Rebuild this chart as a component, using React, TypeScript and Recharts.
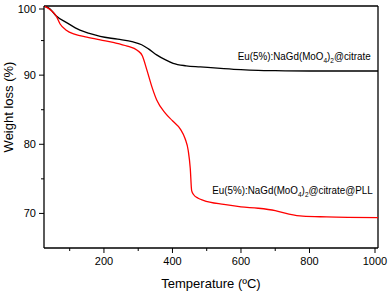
import React from "react";
import { LineChart, Line, XAxis, YAxis, ReferenceLine, ReferenceDot } from "recharts";

const citrate = [
  [25, 100], [42, 99.6], [60, 98.6], [91, 97.6], [130, 96.5], [160, 96], [189, 95.6], [240, 95.2],
  [285, 94.8], [310, 94.4], [330, 93.8], [355, 92.9], [380, 92.2], [402, 91.7], [440, 91.35],
  [481, 91.2], [550, 90.95], [600, 90.8], [650, 90.7], [700, 90.65], [800, 90.6], [1000, 90.6],
].map(([t, w]) => ({ t, w }));

const citratePLL = [
  [25, 100], [45, 99.4], [60, 98.6], [72, 97.4], [90, 96.5], [116, 95.9], [150, 95.5], [189, 95.1],
  [230, 94.7], [268, 94.2], [297, 93.6], [312, 92.8], [325, 90.8], [340, 88.3], [354, 86.4],
  [379, 84.5], [400, 83.4], [423, 82.2], [437, 80.8], [446, 79.1], [452, 76.5], [456, 73.3],
  [462, 72.7], [475, 72.2], [490, 71.9], [550, 71.3], [600, 70.95], [650, 70.75], [700, 70.4],
  [740, 69.9], [780, 69.6], [850, 69.5], [1000, 69.4],
].map(([t, w]) => ({ t, w }));

const xTicks = [100, 200, 300, 400, 500, 600, 700, 800, 900, 1000];
const xMajor = [200, 400, 600, 800, 1000];
const yTicks = [70, 75, 80, 85, 90, 95, 100];
const yMajor = [70, 80, 90, 100];

const FONT = "'Liberation Sans', Arial, sans-serif";

const XTick = (props: any) => {
  const { x, y, payload } = props;
  const major = xMajor.includes(payload.value);
  return (
    <g>
      <line x1={x} y1={y} x2={x} y2={y + (major ? 5 : 3)} stroke="#000" strokeWidth={1} />
      {major && (
        <text x={x} y={y + 17} textAnchor="middle" fontSize={11} fontFamily={FONT} fill="#000">
          {payload.value}
        </text>
      )}
    </g>
  );
};

const YTick = (props: any) => {
  const { x, y, payload } = props;
  const major = yMajor.includes(payload.value);
  return (
    <g>
      <line x1={x} y1={y} x2={x - (major ? 5 : 3)} y2={y} stroke="#000" strokeWidth={1} />
      {major && (
        <text x={x - 8} y={y + 4} textAnchor="end" fontSize={11} fontFamily={FONT} fill="#000">
          {payload.value}
        </text>
      )}
    </g>
  );
};

const SeriesLabel = (suffix: string) => (props: any) => {
  const { viewBox } = props;
  const x = viewBox.x;
  const y = viewBox.y;
  return (
    <g transform={`translate(${x} ${y}) scale(0.937 1)`}>
      <text x={0} y={0} textAnchor="end" fontSize={10.5} fontFamily={FONT} fill="#000">
        Eu(5%):NaGd(MoO
        <tspan fontSize={7} dy={3}>4</tspan>
        <tspan dy={-3}>)</tspan>
        <tspan fontSize={7} dy={3}>2</tspan>
        <tspan dy={-3}>{suffix}</tspan>
      </text>
    </g>
  );
};

const YTitle = () => (
  <text x={8} y={107} transform="rotate(-90 8 107)" textAnchor="middle" dy="0.35em"
    fontSize={13} fontFamily={FONT} fill="#000">
    Weight loss (%)
  </text>
);

export default function App() {
  return (
    <div style={{ position: "absolute", left: 0, top: 0, width: 391, height: 291, background: "#fff" }}>
      <LineChart width={391} height={291} margin={{ top: 6, right: 13, left: 0, bottom: 0 }}>
        <XAxis
          dataKey="t"
          type="number"
          domain={[25, 1000]}
          ticks={xTicks}
          allowDataOverflow
          tick={<XTick />}
          tickSize={0}
          tickMargin={0}
          tickLine={false}
          height={43}
          axisLine={{ stroke: "#000", strokeWidth: 1.3 }}
          label={{ value: "Temperature (ºC)", position: "insideBottom", offset: 3, fontSize: 13, fontFamily: FONT, fill: "#000" }}
        />
        <YAxis
          type="number"
          domain={[65, 100]}
          ticks={yTicks}
          allowDataOverflow
          tick={<YTick />}
          tickSize={0}
          tickMargin={0}
          tickLine={false}
          width={44}
          axisLine={{ stroke: "#000", strokeWidth: 1.3 }}
          label={<YTitle />}
        />
        <ReferenceLine y={100} stroke="#000" strokeWidth={1.3} />
        <ReferenceLine x={1000} stroke="#000" strokeWidth={1.3} />
        <Line data={citrate} dataKey="w" type="monotone" stroke="#000" strokeWidth={1.3} dot={false} isAnimationActive={false} />
        <Line data={citratePLL} dataKey="w" type="monotone" stroke="#ff0000" strokeWidth={1.3} dot={false} isAnimationActive={false} />
        <ReferenceDot x={978.7} y={92.12} r={0} fill="none" stroke="none" label={SeriesLabel("@citrate")} />
        <ReferenceDot x={984.5} y={72.8} r={0} fill="none" stroke="none" label={SeriesLabel("@citrate@PLL")} />
      </LineChart>
    </div>
  );
}
